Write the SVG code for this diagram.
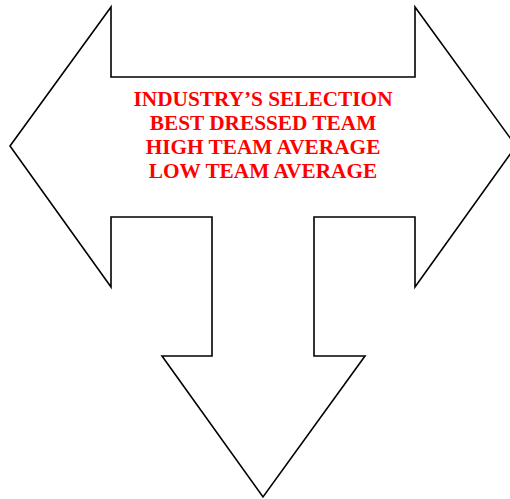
<svg xmlns="http://www.w3.org/2000/svg" width="510" height="499" viewBox="0 0 510 499">
<style>
.outline{fill:#fff;stroke:#000;stroke-width:1.6;stroke-linejoin:miter}
.lbl{font-family:"Liberation Serif","Times New Roman",serif;font-weight:bold;font-size:21.3px;fill:#ff0000;text-anchor:middle}
</style>
<rect width="510" height="499" fill="#fff"/>
<g id="arrow">
<polygon class="outline" points="10,146 111,7 111,77 415,77 415,7 516,146 415,287 415,217 314,217 314,356 365,356 263,497 162,356 212,356 212,217 111,217 111,287"/>
</g>
<g id="label">
<text class="lbl" x="263" y="106">INDUSTRY’S SELECTION</text>
<text class="lbl" x="263" y="130">BEST DRESSED TEAM</text>
<text class="lbl" x="263" y="154">HIGH TEAM AVERAGE</text>
<text class="lbl" x="263" y="178">LOW TEAM AVERAGE</text>
</g>
</svg>
